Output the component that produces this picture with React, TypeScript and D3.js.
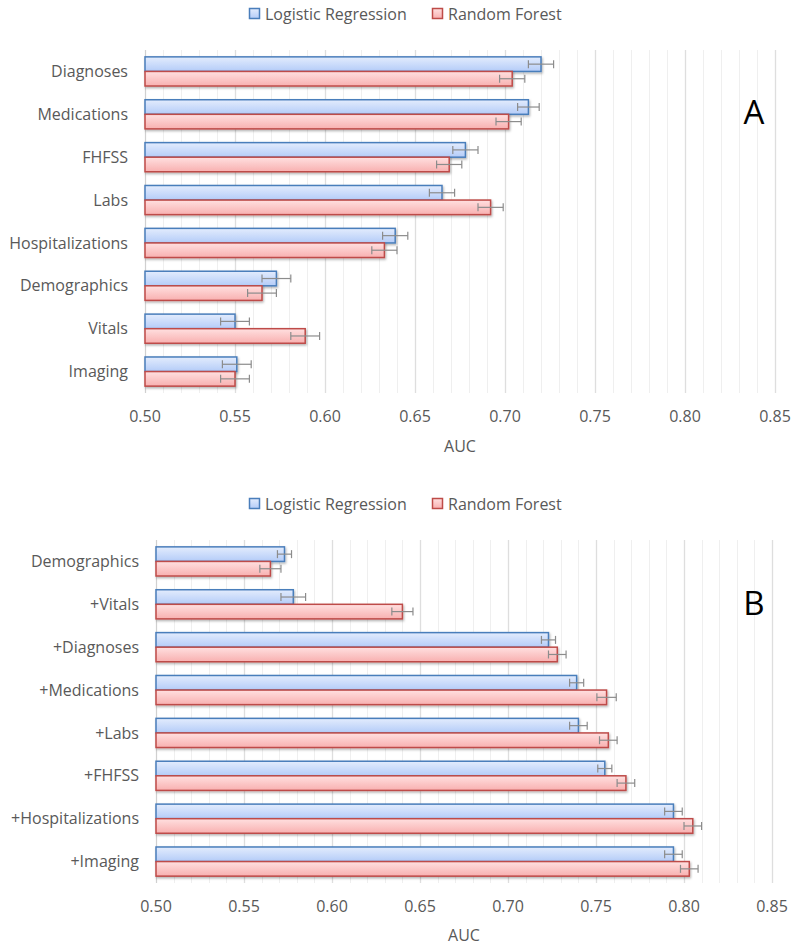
import React from 'react';
import * as d3 from 'd3';

// Panel A: single feature groups
const categoriesA = ['Diagnoses', 'Medications', 'FHFSS', 'Labs', 'Hospitalizations', 'Demographics', 'Vitals', 'Imaging'];
const lrA = [0.720, 0.713, 0.678, 0.665, 0.639, 0.573, 0.550, 0.551];
const lrErrA = [0.007, 0.006, 0.007, 0.007, 0.007, 0.008, 0.008, 0.008];
const rfA = [0.704, 0.702, 0.669, 0.692, 0.633, 0.565, 0.589, 0.550];
const rfErrA = [0.007, 0.007, 0.007, 0.007, 0.007, 0.008, 0.008, 0.008];

// Panel B: cumulative feature groups
const categoriesB = ['Demographics', '+Vitals', '+Diagnoses', '+Medications', '+Labs', '+FHFSS', '+Hospitalizations', '+Imaging'];
const lrB = [0.573, 0.578, 0.723, 0.739, 0.740, 0.755, 0.794, 0.794];
const lrErrB = [0.004, 0.007, 0.004, 0.004, 0.005, 0.004, 0.005, 0.005];
const rfB = [0.565, 0.640, 0.728, 0.756, 0.757, 0.767, 0.805, 0.803];
const rfErrB = [0.006, 0.006, 0.005, 0.0055, 0.005, 0.005, 0.005, 0.005];

const seriesNames = ['Logistic Regression', 'Random Forest'];
const xTicks = [0.50, 0.55, 0.60, 0.65, 0.70, 0.75, 0.80, 0.85];
const xDomain = [0.50, 0.85];

const FONT = '"Open Sans", sans-serif';
const TEXT = '#595959';
const styles = [
  { fill: 'url(#gradBlue)', stroke: '#4a7ebb' },
  { fill: 'url(#gradRed)', stroke: '#be4b48' },
];

function Panel({ categories, lr, lrErr, rf, rfErr, left, right, top, bottom, legendY, tickY, aucY, letter, letterY }) {
  const x = d3.scaleLinear().domain(xDomain).range([left, right]);
  const y = d3.scaleBand().domain(categories).range([top, bottom]).paddingInner(0.32).paddingOuter(0.16);
  const sub = d3.scaleBand().domain(seriesNames).range([0, y.bandwidth()]);
  const minor = d3.range(50, 86).map(v => v / 100);

  const rows = categories.map((c, i) => ({
    c,
    vals: [
      { s: seriesNames[0], v: lr[i], e: lrErr[i], k: 0 },
      { s: seriesNames[1], v: rf[i], e: rfErr[i], k: 1 },
    ],
  }));

  const legendX = [249, 432];
  const legendTextX = [265, 448];

  return (
    <g>
      {/* legend */}
      {seriesNames.map((s, i) => (
        <g key={s}>
          <rect x={legendX[i] + 0.5} y={legendY - 5.5} width={10} height={10}
                fill={styles[i].fill} stroke={styles[i].stroke} strokeWidth={1.5} />
          <text x={legendTextX[i]} y={legendY} dy="0.35em" fontFamily={FONT} fontSize={16} fill={TEXT}>{s}</text>
        </g>
      ))}

      {/* gridlines */}
      {minor.map(v => {
        const major = Math.round(v * 100) % 5 === 0;
        return (
          <line key={v} x1={Math.round(x(v)) + 0.5} x2={Math.round(x(v)) + 0.5} y1={top} y2={bottom}
                stroke={major ? '#dedede' : '#efefef'} strokeWidth={major ? 1.3 : 1} />
        );
      })}
      <line x1={left + 0.5} x2={left + 0.5} y1={top} y2={bottom} stroke="#d0d0d0" strokeWidth={1} />

      {/* bars */}
      {rows.map(r => (
        <g key={r.c} transform={`translate(0,${y(r.c)})`}>
          {r.vals.map(d => (
            <rect key={d.s} x={x(xDomain[0])} y={sub(d.s)} width={x(d.v) - x(xDomain[0])} height={sub.bandwidth()}
                  fill={styles[d.k].fill} stroke={styles[d.k].stroke} strokeWidth={1.5} filter="url(#shadow)" />
          ))}
          {r.vals.map(d => {
            const cy = sub(d.s) + sub.bandwidth() / 2;
            return (
              <g key={'e' + d.s} stroke="#8c8c8c" strokeWidth={1.2}>
                <line x1={x(d.v - d.e)} x2={x(d.v + d.e)} y1={cy} y2={cy} />
                <line x1={x(d.v - d.e)} x2={x(d.v - d.e)} y1={cy - 4} y2={cy + 4} />
                <line x1={x(d.v + d.e)} x2={x(d.v + d.e)} y1={cy - 4} y2={cy + 4} />
              </g>
            );
          })}
          <text x={left - 17} y={y.bandwidth() / 2} dy="0.35em" textAnchor="end"
                fontFamily={FONT} fontSize={16} fill={TEXT}>{r.c}</text>
        </g>
      ))}

      {/* x axis labels */}
      {xTicks.map(t => (
        <text key={t} x={x(t)} y={tickY} dy="0.35em" textAnchor="middle" fontFamily={FONT} fontSize={16} fill={TEXT}>
          {d3.format('.2f')(t)}
        </text>
      ))}
      <text x={(left + right) / 2} y={aucY} dy="0.35em" textAnchor="middle" fontFamily={FONT} fontSize={16} fill={TEXT}>AUC</text>

      <text x={754} y={letterY} textAnchor="middle" fontFamily={FONT} fontSize={33} fill="#000">{letter}</text>
    </g>
  );
}

export default function App() {
  return (
    <svg width={800} height={952} style={{ position: 'absolute', left: 0, top: 0, background: '#fff' }}>
      <defs>
        <linearGradient id="gradBlue" x1="0" y1="0" x2="0" y2="1">
          <stop offset="0" stopColor="#e3ecfd" />
          <stop offset="1" stopColor="#b4ccf8" />
        </linearGradient>
        <linearGradient id="gradRed" x1="0" y1="0" x2="0" y2="1">
          <stop offset="0" stopColor="#ffe0e0" />
          <stop offset="1" stopColor="#f8b0b0" />
        </linearGradient>
        <filter id="shadow" x="-5%" y="-30%" width="110%" height="170%">
          <feDropShadow dx="1" dy="1.5" stdDeviation="1" floodColor="#000" floodOpacity="0.3" />
        </filter>
      </defs>
      <rect width={800} height={952} fill="#fff" />
      <Panel categories={categoriesA} lr={lrA} lrErr={lrErrA} rf={rfA} rfErr={rfErrA}
             left={145} right={775} top={50} bottom={393}
             legendY={14} tickY={416} aucY={446} letter="A" letterY={124} />
      <Panel categories={categoriesB} lr={lrB} lrErr={lrErrB} rf={rfB} rfErr={rfErrB}
             left={156} right={772} top={540} bottom={883}
             legendY={504} tickY={906} aucY={935} letter="B" letterY={615} />
    </svg>
  );
}
